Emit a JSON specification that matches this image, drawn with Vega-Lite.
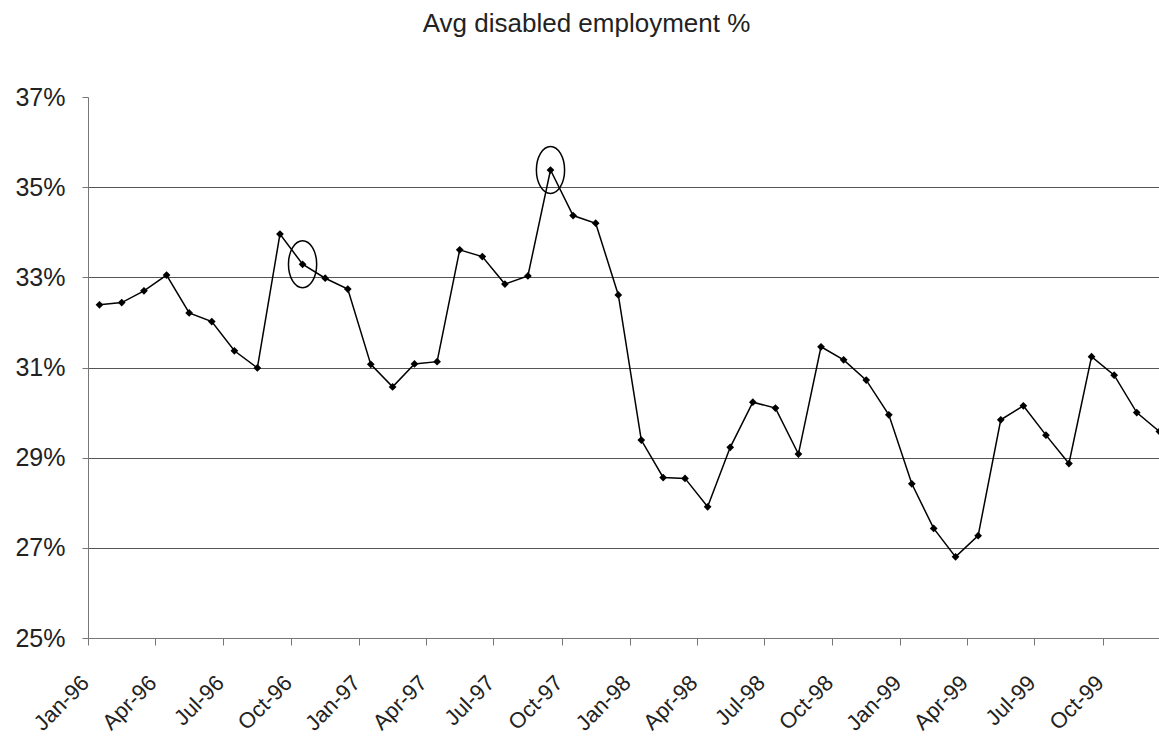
{
  "$schema": "https://vega.github.io/schema/vega-lite/v6.json",
  "width": 1071,
  "height": 541,
  "autosize": {"type": "none"},
  "padding": {"left": 88, "top": 97, "right": 0, "bottom": 100},
  "background": "white",
  "title": {"text": "Avg disabled employment %", "fontSize": 26, "font": "Liberation Sans", "fontWeight": "normal", "color": "#222", "offset": 48, "dx": -37},
  "config": {"view": {"stroke": null}, "font": "Liberation Sans"},
  "data": {"values": [
    {"month": "1996-01", "rate": 0.3239},
    {"month": "1996-02", "rate": 0.3244},
    {"month": "1996-03", "rate": 0.3270},
    {"month": "1996-04", "rate": 0.3305},
    {"month": "1996-05", "rate": 0.3221},
    {"month": "1996-06", "rate": 0.3202},
    {"month": "1996-07", "rate": 0.3137},
    {"month": "1996-08", "rate": 0.3099},
    {"month": "1996-09", "rate": 0.3396},
    {"month": "1996-10", "rate": 0.3329, "highlight": true},
    {"month": "1996-11", "rate": 0.3298},
    {"month": "1996-12", "rate": 0.3274},
    {"month": "1997-01", "rate": 0.3107},
    {"month": "1997-02", "rate": 0.3057},
    {"month": "1997-03", "rate": 0.3108},
    {"month": "1997-04", "rate": 0.3113},
    {"month": "1997-05", "rate": 0.3361},
    {"month": "1997-06", "rate": 0.3346},
    {"month": "1997-07", "rate": 0.3285},
    {"month": "1997-08", "rate": 0.3303},
    {"month": "1997-09", "rate": 0.3538, "highlight": true},
    {"month": "1997-10", "rate": 0.3437},
    {"month": "1997-11", "rate": 0.3420},
    {"month": "1997-12", "rate": 0.3261},
    {"month": "1998-01", "rate": 0.2939},
    {"month": "1998-02", "rate": 0.2856},
    {"month": "1998-03", "rate": 0.2854},
    {"month": "1998-04", "rate": 0.2791},
    {"month": "1998-05", "rate": 0.2923},
    {"month": "1998-06", "rate": 0.3023},
    {"month": "1998-07", "rate": 0.3010},
    {"month": "1998-08", "rate": 0.2908},
    {"month": "1998-09", "rate": 0.3146},
    {"month": "1998-10", "rate": 0.3117},
    {"month": "1998-11", "rate": 0.3072},
    {"month": "1998-12", "rate": 0.2995},
    {"month": "1999-01", "rate": 0.2842},
    {"month": "1999-02", "rate": 0.2743},
    {"month": "1999-03", "rate": 0.2680},
    {"month": "1999-04", "rate": 0.2727},
    {"month": "1999-05", "rate": 0.2984},
    {"month": "1999-06", "rate": 0.3015},
    {"month": "1999-07", "rate": 0.2950},
    {"month": "1999-08", "rate": 0.2887},
    {"month": "1999-09", "rate": 0.3124},
    {"month": "1999-10", "rate": 0.3083},
    {"month": "1999-11", "rate": 0.3000},
    {"month": "1999-12", "rate": 0.2958}
  ]},
  "encoding": {
    "x": {
      "field": "month", "timeUnit": "utcyearmonth", "type": "temporal", "bandPosition": 0.5,
      "scale": {"domain": [{"year": 1996, "month": 1, "date": 1, "utc": true}, {"year": 1999, "month": 12, "date": 16, "utc": true}]},
      "axis": {"title": null, "labelExpr": "utcFormat(datum.value, '%b-%y')", "tickCount": {"interval": "month", "step": 3},
        "labelAngle": -45, "labelFontSize": 22, "labelAlign": "right", "labelBaseline": "middle", "labelColor": "#222",
        "grid": false, "domainColor": "#777", "tickColor": "#777", "tickSize": 7, "labelPadding": 34, "labelOffset": -3, "labelOverlap": false, "labelFlush": false}
    },
    "y": {
      "field": "rate", "type": "quantitative",
      "scale": {"domain": [0.25, 0.37], "nice": false, "zero": false},
      "axis": {"title": null, "format": ".0%", "values": [0.25, 0.27, 0.29, 0.31, 0.33, 0.35, 0.37],
        "labelFontSize": 25, "labelColor": "#222", "domainColor": "#777", "tickColor": "#777", "tickSize": 6, "labelPadding": 17,
        "gridColor": {"condition": {"test": "datum.value > 0.365 || datum.value < 0.255", "value": "transparent"}, "value": "#555"},
        "gridWidth": 1}
    }
  },
  "layer": [
    {"mark": {"type": "line", "color": "black", "strokeWidth": 1.5}},
    {"mark": {"type": "point", "shape": "diamond", "filled": true, "color": "black", "size": 60, "opacity": 1}},
    {"transform": [{"filter": "datum.highlight"}],
     "mark": {"type": "point", "shape": "M -0.6,0 A 0.6,1 0 1,0 0.6,0 A 0.6,1 0 1,0 -0.6,0 Z", "filled": false, "color": "black", "size": 2209, "strokeWidth": 1.5, "opacity": 1}}
  ]
}
